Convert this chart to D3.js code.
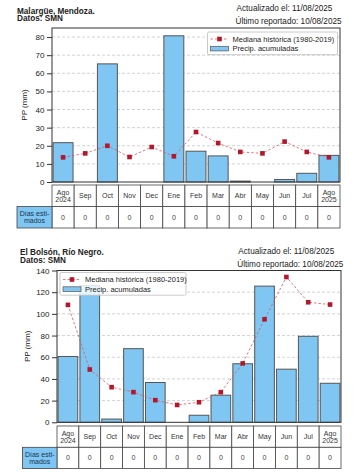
<!DOCTYPE html>
<html><head><meta charset="utf-8">
<script src="https://cdn.jsdelivr.net/npm/d3@7"></script>
<style>
html,body{margin:0;padding:0;background:#fff;}
svg{display:block;font-family:"Liberation Sans",Arial,Helvetica,sans-serif;}
</style></head>
<body>
<svg id="c" width="353" height="476"></svg>
<script>
const months = ["Ago\n2024","Sep","Oct","Nov","Dec","Ene","Feb","Mar","Abr","May","Jun","Jul","Ago\n2025"];
// Malargüe
const precip1 = [21.7, 0, 65.2, 0, 0, 80.7, 17, 14.4, 0.5, 0, 1.4, 4.8, 14.7];
const median1 = [13.6, 15.8, 20, 13.8, 19.3, 14.2, 27.6, 21.5, 16.6, 15.8, 22.3, 16.6, 13.6];
const dias1 = [0,0,0,0,0,0,0,0,0,0,0,0,0];
const ticks1 = [0,10,20,30,40,50,60,70,80];
// El Bolsón
const precip2 = [60.7, 126, 3, 67.9, 36.7, 0, 6.5, 25, 54, 125.6, 49, 79.3, 36];
const median2 = [108.3, 48.7, 32.4, 27.8, 20.4, 16, 18.5, 27.8, 54.3, 95, 134, 110.7, 108.6];
const dias2 = [0,0,0,0,0,0,0,0,0,0,0,0,0];
const ticks2 = [0,20,40,60,80,100,120,140];

const svg = d3.select("#c");
const BAR = "#7fc6f3", EDGE = "#555", MED = "#b3172b", MEDLINE = "#d9585f";

function chart(o){
  const g = svg.append("g");
  // header texts
  g.append("text").attr("x", o.titleX).attr("y", o.titleY).attr("font-size", 8.2).attr("font-weight","bold").attr("fill","#222").text(o.title);
  g.append("text").attr("x", o.titleX).attr("y", o.titleY+7.8).attr("font-size", 8.2).attr("font-weight","bold").attr("fill","#222").text("Datos: SMN");
  g.append("text").attr("x", o.rightX).attr("y", o.rightY).attr("font-size", 8.2).attr("fill","#222").text("Actualizado el: 11/08/2025");
  g.append("text").attr("x", o.rightX-1).attr("y", o.rightY+12.5).attr("font-size", 8.2).attr("fill","#222").text("Último reportado: 10/08/2025");

  const x = d3.scaleBand().domain(d3.range(months.length)).range([o.x0, o.x1]).paddingInner(0.1).paddingOuter(0.05);
  const y = d3.scaleLinear().domain([0, o.ymax]).range([o.yb, o.yt]);
  const step = x.step();
  const cx = i => x(i) + x.bandwidth()/2;

  // grid
  g.append("g").selectAll("line").data(o.ticks.filter(t=>t>0)).join("line")
    .attr("x1", o.x0).attr("x2", o.x1).attr("y1", d=>y(d)).attr("y2", d=>y(d))
    .attr("stroke","#c8c8c8").attr("stroke-width",0.8).attr("stroke-dasharray","3,2");

  // bars
  g.append("g").selectAll("rect").data(o.precip).join("rect")
    .attr("x",(d,i)=>x(i)).attr("width", x.bandwidth())
    .attr("y", d=>y(d)).attr("height", d=>y(0)-y(d))
    .attr("fill", BAR).attr("stroke", EDGE).attr("stroke-width",1);

  // median line
  const line = d3.line().x((d,i)=>cx(i)).y(d=>y(d));
  g.append("path").datum(o.median).attr("d", line).attr("fill","none")
    .attr("stroke", MEDLINE).attr("stroke-width",0.8).attr("stroke-dasharray","2.5,2");
  g.append("g").selectAll("rect").data(o.median).join("rect")
    .attr("x",(d,i)=>cx(i)-2.3).attr("y", d=>y(d)-2.3).attr("width",4.6).attr("height",4.6).attr("fill", MED);

  // frame
  g.append("rect").attr("x", o.x0).attr("y", o.yt).attr("width", o.x1-o.x0).attr("height", o.yb-o.yt)
    .attr("fill","none").attr("stroke","#333").attr("stroke-width",1);

  // y axis
  const ax = g.append("g").attr("transform", `translate(${o.x0},0)`)
    .call(d3.axisLeft(y).tickValues(o.ticks).tickSize(5).tickPadding(2.5).tickFormat(d3.format("d")));
  ax.select(".domain").remove();
  ax.selectAll(".tick line").attr("stroke","#333");
  ax.selectAll(".tick text").attr("font-size",8).attr("fill","#222").attr("font-family","Liberation Sans, Arial, sans-serif");
  g.append("text").attr("transform", `translate(${o.ylabX},${(o.yt+o.yb)/2}) rotate(-90)`)
    .attr("text-anchor","middle").attr("font-size",8).attr("fill","#222").text("PP (mm)");

  // legend
  const L = g.append("g").attr("transform", `translate(${o.legX},${o.legY})`);
  L.append("rect").attr("x",0).attr("y",0).attr("width", o.legW).attr("height",22.7).attr("rx",1.5)
    .attr("fill","#fff").attr("fill-opacity",0.82).attr("stroke","#bbb").attr("stroke-width",0.8);
  L.append("line").attr("x1",3).attr("x2",21).attr("y1",7).attr("y2",7).attr("stroke",MEDLINE).attr("stroke-width",0.8).attr("stroke-dasharray","2.5,2");
  L.append("rect").attr("x",12-2.3).attr("y",7-2.3).attr("width",4.6).attr("height",4.6).attr("fill",MED);
  L.append("rect").attr("x",3).attr("y",14.3).attr("width",18).attr("height",4.6).attr("fill",BAR).attr("stroke",EDGE).attr("stroke-width",0.7);
  L.append("text").attr("x",25).attr("y",9.6).attr("font-size",7.5).attr("fill","#222").text("Mediana histórica (1980-2019)");
  L.append("text").attr("x",25).attr("y",19.4).attr("font-size",7.5).attr("fill","#222").text("Precip. acumuladas");

  // table
  const T = g.append("g");
  const r0 = o.tt, rh = o.rh;
  T.selectAll("rect.c1").data(months).join("rect").attr("class","c1")
    .attr("x",(d,i)=>o.x0+i*step).attr("y",r0).attr("width",step).attr("height",rh)
    .attr("fill","#fff").attr("stroke","#444").attr("stroke-width",0.8);
  T.selectAll("rect.c2").data(o.dias).join("rect").attr("class","c2")
    .attr("x",(d,i)=>o.x0+i*step).attr("y",r0+rh).attr("width",step).attr("height",rh)
    .attr("fill","#fff").attr("stroke","#444").attr("stroke-width",0.8);
  T.append("rect").attr("x",o.hx).attr("y",r0+rh).attr("width",o.x0-o.hx).attr("height",rh)
    .attr("fill",BAR).attr("stroke","#444").attr("stroke-width",0.8);
  months.forEach((m,i)=>{
    const parts = m.split("\n");
    const t = T.append("text").attr("text-anchor","middle").attr("font-size",7).attr("fill","#333");
    const mx = o.x0 + (i+0.5)*step;
    if(parts.length===1){
      t.append("tspan").attr("x",mx).attr("y",r0+rh/2+2.5).text(parts[0]);
    } else {
      t.append("tspan").attr("x",mx).attr("y",r0+rh/2-1).text(parts[0]);
      t.append("tspan").attr("x",mx).attr("y",r0+rh/2+6).text(parts[1]);
    }
  });
  T.selectAll("text.d").data(o.dias).join("text").attr("class","d")
    .attr("x",(d,i)=>o.x0+(i+0.5)*step).attr("y",r0+rh*1.5+2.5)
    .attr("text-anchor","middle").attr("font-size",7).attr("fill","#444").text(d=>d);
  const hc = (o.hx+o.x0)/2;
  const ht = T.append("text").attr("text-anchor","middle").attr("font-size",7).attr("fill","#1a3550");
  ht.append("tspan").attr("x",hc).attr("y",r0+rh*1.5-1).text("Días esti-");
  ht.append("tspan").attr("x",hc).attr("y",r0+rh*1.5+6).text("mados");
}

chart({title:"Malargüe, Mendoza.", titleX:17, titleY:13.5, rightX:236.5, rightY:11.2,
  x0:52, x1:340, yt:28, yb:182, ymax:85, ticks:ticks1, precip:precip1, median:median1, dias:dias1,
  ylabX:27, legX:207.5, legY:32, legW:130, tt:185, rh:21.5, hx:17});
chart({title:"El Bolsón, Río Negro.", titleX:20, titleY:255, rightX:238.3, rightY:254,
  x0:57, x1:341, yt:270.5, yb:422.3, ymax:140, ticks:ticks2, precip:precip2, median:median2, dias:dias2,
  ylabX:29.5, legX:60, legY:272.5, legW:126, tt:426, rh:21.3, hx:22.5});
</script>
</body></html>
